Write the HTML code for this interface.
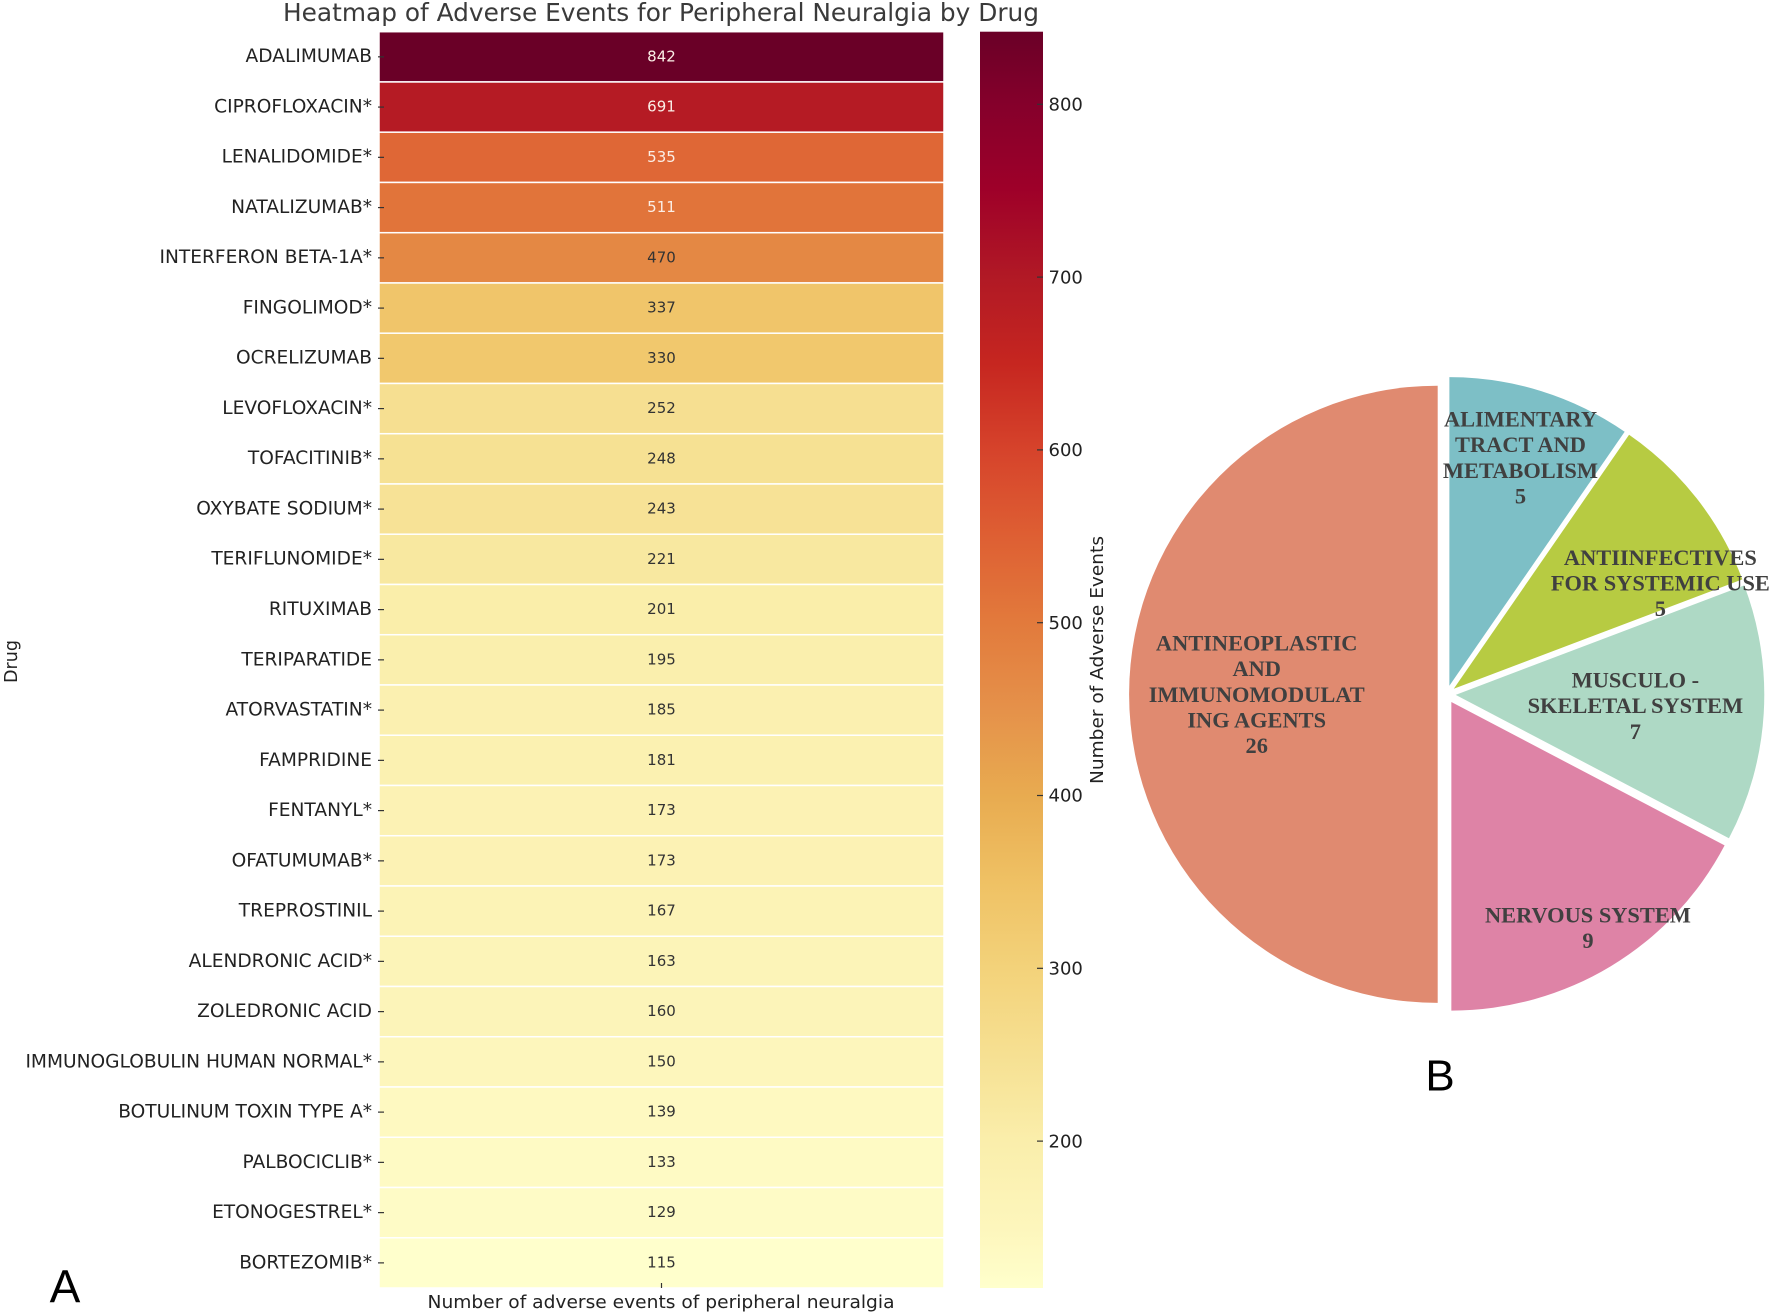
<!DOCTYPE html>
<html lang="en">
<head>
<meta charset="utf-8">
<title>Adverse Events for Peripheral Neuralgia</title>
<style>
  html, body { margin: 0; padding: 0; background: #fff; }
  svg { display: block; }
  text { font-family: "DejaVu Sans", sans-serif; }
  .serif { font-family: "Liberation Serif", serif; font-weight: bold; }
  .panel { font-family: "Liberation Sans", sans-serif; }
</style>
</head>
<body>
<svg id="figure" xmlns="http://www.w3.org/2000/svg" width="1772" height="1315" viewBox="0 0 1772 1315">
  <defs>
    <linearGradient id="colorbar-gradient" x1="0" y1="1" x2="0" y2="0"></linearGradient>
  </defs>
  <rect x="0" y="0" width="1772" height="1315" fill="#ffffff"/>
  <text x="661" y="21" text-anchor="middle" font-size="24.8" fill="#3a3a3a" textLength="756" lengthAdjust="spacingAndGlyphs">Heatmap of Adverse Events for Peripheral Neuralgia by Drug</text>
  <g id="heatmap"></g>
  <g id="colorbar"></g>
  <text transform="translate(17 661.5) rotate(-90)" text-anchor="middle" font-size="17.5" fill="#222">Drug</text>
  <text x="661" y="1308" text-anchor="middle" font-size="18" fill="#222" textLength="467" lengthAdjust="spacingAndGlyphs">Number of adverse events of peripheral neuralgia</text>
  <text transform="translate(1103 660) rotate(-90)" text-anchor="middle" font-size="18" fill="#222" textLength="248" lengthAdjust="spacingAndGlyphs">Number of Adverse Events</text>
  <g id="pie"></g>
  <text class="panel" x="65" y="1302.7" text-anchor="middle" font-size="46" fill="#000">A</text>
  <text class="panel" x="1440" y="1090.7" text-anchor="middle" font-size="44" fill="#000">B</text>
</svg>
<script>
const drugs = ["ADALIMUMAB","CIPROFLOXACIN*","LENALIDOMIDE*","NATALIZUMAB*","INTERFERON BETA-1A*","FINGOLIMOD*","OCRELIZUMAB","LEVOFLOXACIN*","TOFACITINIB*","OXYBATE SODIUM*","TERIFLUNOMIDE*","RITUXIMAB","TERIPARATIDE","ATORVASTATIN*","FAMPRIDINE","FENTANYL*","OFATUMUMAB*","TREPROSTINIL","ALENDRONIC ACID*","ZOLEDRONIC ACID","IMMUNOGLOBULIN HUMAN NORMAL*","BOTULINUM TOXIN TYPE A*","PALBOCICLIB*","ETONOGESTREL*","BORTEZOMIB*"];
const eventCounts = [842,691,535,511,470,337,330,252,248,243,221,201,195,185,181,173,173,167,163,160,150,139,133,129,115];
const colorbarTicks = [200,300,400,500,600,700,800];
const pieCategories = ["ALIMENTARY\nTRACT AND\nMETABOLISM","ANTIINFECTIVES\nFOR SYSTEMIC USE","MUSCULO -\nSKELETAL SYSTEM","NERVOUS SYSTEM","ANTINEOPLASTIC\nAND\nIMMUNOMODULAT\nING AGENTS"];
const pieValues = [5,5,7,9,26];
const pieColors = ["#7dbfc6","#b7cb42","#aed9c5","#de83a6","#e08a70"];

const SVG_NS = "http://www.w3.org/2000/svg";
const heatBox = { left: 379, right: 944, top: 31.7, bottom: 1288 };
const barBox = { left: 980, right: 1043, top: 31.7, bottom: 1288 };
const pieBox = { cx: 1446.7, cy: 694.3, r: 308.6, explode: 9 };

/* colormap sampled from the reference colorbar: position in the 115..842 range, colour */
const cmapStops = [
  [0.0000,"#ffffcc"],[0.0481,"#fdf6bc"],[0.1169,"#faeeab"],[0.1857,"#f6e092"],
  [0.2545,"#f3d27a"],[0.3232,"#efc164"],[0.3920,"#e8ab50"],[0.4608,"#e5914a"],
  [0.5296,"#e27a3c"],[0.5983,"#de5f33"],[0.6671,"#d6432b"],[0.7359,"#c62620"],
  [0.8047,"#b11925"],[0.8748,"#9e0029"],[0.9422,"#85002b"],[1.0000,"#6a0027"]
];

function el(tag, parent) {
  const node = document.createElementNS(SVG_NS, tag);
  parent.appendChild(node);
  return node;
}
function hexToRgb(h) {
  return [parseInt(h.slice(1,3),16), parseInt(h.slice(3,5),16), parseInt(h.slice(5,7),16)];
}
function cmap(t) {
  t = Math.max(0, Math.min(1, t));
  for (let i = 1; i < cmapStops.length; i++) {
    if (t <= cmapStops[i][0]) {
      const a = cmapStops[i-1], b = cmapStops[i];
      const f = (t - a[0]) / (b[0] - a[0]);
      const ca = hexToRgb(a[1]), cb = hexToRgb(b[1]);
      const c = ca.map((v, k) => Math.round(v + (cb[k] - v) * f));
      return "rgb(" + c.join(",") + ")";
    }
  }
  return cmapStops[cmapStops.length-1][1];
}

const minValue = Math.min.apply(null, eventCounts);
const maxValue = Math.max.apply(null, eventCounts);
const norm = v => (v - minValue) / (maxValue - minValue);
const rowHeight = (heatBox.bottom - heatBox.top) / drugs.length;
const rowY = i => heatBox.top + i * rowHeight;
const colorbarY = v => barBox.bottom - norm(v) * (barBox.bottom - barBox.top);

/* heatmap */
const heatmap = document.getElementById("heatmap");
const cx = (heatBox.left + heatBox.right) / 2;
drugs.forEach((drug, i) => {
  const v = eventCounts[i];
  const cell = el("rect", heatmap);
  
  
  cell.setAttribute("x", heatBox.left);
  cell.setAttribute("y", rowY(i));
  cell.setAttribute("width", heatBox.right - heatBox.left);
  cell.setAttribute("height", rowHeight);
  cell.setAttribute("fill", cmap(norm(v)));
  cell.setAttribute("stroke", "#ffffff");
  cell.setAttribute("stroke-width", "1.5");

  const valueLabel = el("text", heatmap);
  
  
  valueLabel.setAttribute("x", cx);
  valueLabel.setAttribute("y", rowY(i) + rowHeight / 2 + 4.5);
  valueLabel.setAttribute("text-anchor", "middle");
  valueLabel.setAttribute("font-size", "15");
  valueLabel.setAttribute("fill", norm(v) > 0.53 ? "#fbeee6" : "#333333");
  valueLabel.textContent = v;

  const tick = el("line", heatmap);
  
  
  tick.setAttribute("x1", heatBox.left - 1);
  tick.setAttribute("x2", heatBox.left + 5);
  tick.setAttribute("y1", rowY(i) + rowHeight / 2);
  tick.setAttribute("y2", rowY(i) + rowHeight / 2);
  tick.setAttribute("stroke", "#333");
  tick.setAttribute("stroke-width", "1.2");

  const drugLabel = el("text", heatmap);
  
  
  drugLabel.setAttribute("x", 372);
  drugLabel.setAttribute("y", rowY(i) + rowHeight / 2 + 5.4);
  drugLabel.setAttribute("text-anchor", "end");
  drugLabel.setAttribute("font-size", "18.6");
  drugLabel.setAttribute("fill", "#222222");
  drugLabel.textContent = drug;
});
const xTick = el("line", heatmap);


xTick.setAttribute("x1", cx);
xTick.setAttribute("x2", cx);
xTick.setAttribute("y1", heatBox.bottom - 5);
xTick.setAttribute("y2", heatBox.bottom);
xTick.setAttribute("stroke", "#333");
xTick.setAttribute("stroke-width", "1.2");

/* colorbar */
const gradient = document.getElementById("colorbar-gradient");
cmapStops.forEach(s => {
  const stop = el("stop", gradient);
  stop.setAttribute("offset", s[0]);
  stop.setAttribute("stop-color", s[1]);
});
const colorbar = document.getElementById("colorbar");
const barRect = el("rect", colorbar);


barRect.setAttribute("x", barBox.left);
barRect.setAttribute("y", barBox.top);
barRect.setAttribute("width", barBox.right - barBox.left);
barRect.setAttribute("height", barBox.bottom - barBox.top);
barRect.setAttribute("fill", "url(#colorbar-gradient)");
colorbarTicks.forEach(v => {
  const y = colorbarY(v);
  const tick = el("line", colorbar);
  
  
  tick.setAttribute("x1", barBox.right - 6);
  tick.setAttribute("x2", barBox.right);
  tick.setAttribute("y1", y);
  tick.setAttribute("y2", y);
  tick.setAttribute("stroke", "#333");
  tick.setAttribute("stroke-width", "1.2");
  const label = el("text", colorbar);
  
  
  label.setAttribute("x", 1048.5);
  label.setAttribute("y", y + 6.2);
  label.setAttribute("font-size", "18");
  label.setAttribute("fill", "#222222");
  label.textContent = v;
});

/* pie: slices run clockwise from 12 o'clock, each pulled out along its mid-angle */
const pie = document.getElementById("pie");
const pieTotal = pieValues.reduce((a, b) => a + b, 0);
const labelRadius = { 0: 239, 1: 232, 2: 180, 3: 264, 4: 181 };
const labelAngleShift = { 0: 0, 1: 11, 2: 0, 3: 0, 4: 0 };
const LINE_STEP = 25.6;
const pointAt = (ox, oy, deg, r) => {
  const a = deg * Math.PI / 180;
  return [ox + r * Math.sin(a), oy - r * Math.cos(a)];
};
let startAngle = 0;
pieValues.forEach((v, i) => {
  const sweep = v / pieTotal * 360;
  const endAngle = startAngle + sweep;
  const mid = startAngle + sweep / 2;
  const apex = pointAt(pieBox.cx, pieBox.cy, mid, pieBox.explode);
  const p1 = pointAt(apex[0], apex[1], startAngle, pieBox.r);
  const p2 = pointAt(apex[0], apex[1], endAngle, pieBox.r);
  const slice = el("path", pie);
  
  
  slice.setAttribute("d", "M" + apex[0] + " " + apex[1] + " L" + p1[0] + " " + p1[1] +
    " A" + pieBox.r + " " + pieBox.r + " 0 " + (sweep > 180 ? 1 : 0) + " 1 " + p2[0] + " " + p2[1] + " Z");
  slice.setAttribute("fill", pieColors[i]);
  startAngle = endAngle;
});
startAngle = 0;
pieValues.forEach((v, i) => {
  const sweep = v / pieTotal * 360;
  const mid = startAngle + sweep / 2;
  const apex = pointAt(pieBox.cx, pieBox.cy, mid, pieBox.explode);
  const c = pointAt(apex[0], apex[1], mid + labelAngleShift[i], labelRadius[i]);
  const lines = pieCategories[i].split("\n").concat(String(v));
  const firstBaseline = c[1] - (lines.length - 1) * LINE_STEP / 2 + 7.5;
  const label = el("text", pie);
  label.setAttribute("class", "serif");
  
  
  label.setAttribute("text-anchor", "middle");
  label.setAttribute("font-size", "22.4");
  label.setAttribute("fill", "#404040");
  lines.forEach((line, k) => {
    const span = el("tspan", label);
    span.setAttribute("x", c[0]);
    span.setAttribute("y", firstBaseline + k * LINE_STEP);
    span.textContent = line;
  });
  startAngle += sweep;
});
</script>
</body>
</html>
